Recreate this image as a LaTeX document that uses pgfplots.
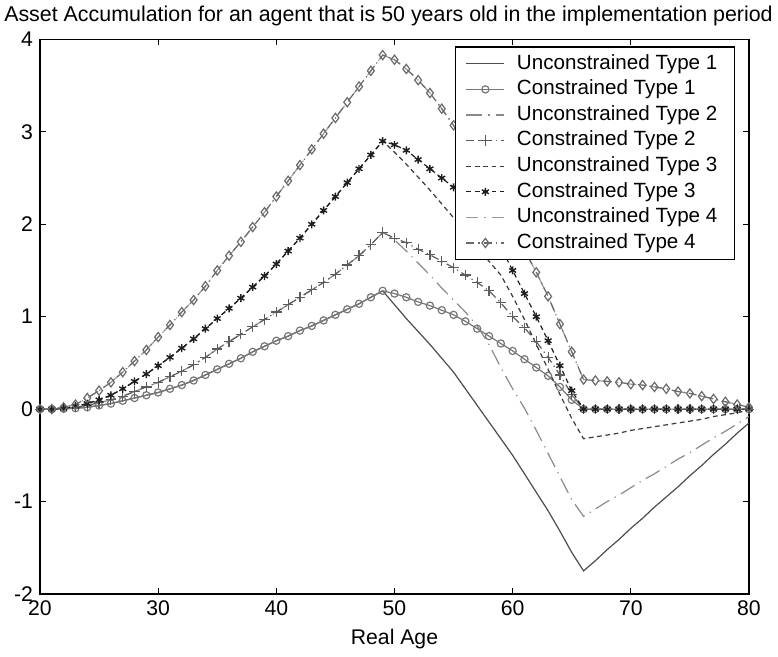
\documentclass[border=0pt]{standalone}
\usepackage{fontspec}
\setmainfont{Liberation Sans}
\usepackage{pgfplots}
\usepackage{pgfplotstable}
\pgfplotsset{compat=1.18}

% Asset holdings by age: unconstrained (u) and constrained (c) paths for four types.
% Type 4 never hits the borrowing constraint, so its two paths coincide.
\pgfplotstableread{
age  u1     c1    u2     c2    u3     c3    u4    c4
20   0      0     0      0     0      0     0     0
21   0      0     0      0     0      0     0     0
22   0.005  0.005 0.01   0.01  0.01   0.01  0.02  0.02
23   0.01   0.01  0.02   0.02  0.03   0.03  0.05  0.05
24   0.02   0.02  0.04   0.04  0.06   0.06  0.12  0.12
25   0.04   0.04  0.07   0.07  0.10   0.10  0.20  0.20
26   0.06   0.06  0.10   0.10  0.15   0.15  0.29  0.29
27   0.09   0.09  0.14   0.14  0.22   0.22  0.40  0.40
28   0.12   0.12  0.19   0.19  0.30   0.30  0.52  0.52
29   0.15   0.15  0.24   0.24  0.38   0.38  0.64  0.64
30   0.18   0.18  0.29   0.29  0.47   0.47  0.78  0.78
31   0.22   0.22  0.35   0.35  0.56   0.56  0.91  0.91
32   0.26   0.26  0.41   0.41  0.66   0.66  1.05  1.05
33   0.31   0.31  0.48   0.48  0.76   0.76  1.18  1.18
34   0.37   0.37  0.56   0.56  0.87   0.87  1.33  1.33
35   0.43   0.43  0.65   0.65  0.98   0.98  1.50  1.50
36   0.49   0.49  0.73   0.73  1.09   1.09  1.66  1.66
37   0.55   0.55  0.81   0.81  1.20   1.20  1.81  1.81
38   0.62   0.62  0.89   0.89  1.32   1.32  1.97  1.97
39   0.68   0.68  0.97   0.97  1.44   1.44  2.13  2.13
40   0.74   0.74  1.05   1.05  1.57   1.57  2.30  2.30
41   0.79   0.79  1.13   1.13  1.71   1.71  2.47  2.47
42   0.85   0.85  1.21   1.21  1.85   1.85  2.64  2.64
43   0.90   0.90  1.29   1.29  2.00   2.00  2.81  2.81
44   0.96   0.96  1.37   1.37  2.15   2.15  2.98  2.98
45   1.02   1.02  1.46   1.46  2.30   2.30  3.15  3.15
46   1.08   1.08  1.56   1.56  2.45   2.45  3.32  3.32
47   1.14   1.14  1.66   1.66  2.60   2.60  3.49  3.49
48   1.21   1.21  1.78   1.78  2.75   2.75  3.66  3.66
49   1.28   1.28  1.91   1.91  2.90   2.90  3.83  3.83
50   1.13   1.25  1.83   1.85  2.78   2.86  3.78  3.78
51   0.98   1.21  1.71   1.80  2.65   2.80  3.68  3.68
52   0.84   1.16  1.58   1.73  2.51   2.70  3.56  3.56
53   0.70   1.12  1.45   1.67  2.37   2.60  3.42  3.42
54   0.55   1.07  1.31   1.60  2.22   2.50  3.25  3.25
55   0.40   1.02  1.18   1.53  2.07   2.40  3.07  3.07
56   0.22   0.95  1.05   1.45  1.91   2.28  2.87  2.87
57   0.04   0.87  0.90   1.37  1.75   2.12  2.66  2.66
58  -0.14   0.79  0.70   1.28  1.60   1.95  2.44  2.44
59  -0.32   0.71  0.45   1.15  1.45   1.75  2.20  2.20
60  -0.50   0.63  0.22   1.00  1.22   1.50  1.96  1.96
61  -0.70   0.54  0.01   0.88  0.97   1.25  1.72  1.72
62  -0.90   0.45 -0.23   0.73  0.70   1.00  1.48  1.48
63  -1.10   0.36 -0.48   0.56  0.43   0.74  1.22  1.22
64  -1.32   0.24 -0.73   0.37  0.16   0.47  0.92  0.92
65  -1.55   0.10 -0.98   0.16 -0.10   0.20  0.62  0.62
66  -1.75   0    -1.16   0    -0.32   0     0.32  0.32
67  -1.64   0    -1.08   0    -0.30   0     0.31  0.31
68  -1.52   0    -1.00   0    -0.28   0     0.30  0.30
69  -1.41   0    -0.93   0    -0.26   0     0.29  0.29
70  -1.29   0    -0.85   0    -0.23   0     0.27  0.27
71  -1.18   0    -0.77   0    -0.21   0     0.26  0.26
72  -1.06   0    -0.70   0    -0.19   0     0.24  0.24
73  -0.95   0    -0.62   0    -0.17   0     0.22  0.22
74  -0.84   0    -0.54   0    -0.15   0     0.19  0.19
75  -0.72   0    -0.47   0    -0.13   0     0.17  0.17
76  -0.61   0    -0.39   0    -0.11   0     0.14  0.14
77  -0.49   0    -0.31   0    -0.08   0     0.11  0.11
78  -0.38   0    -0.24   0    -0.06   0     0.08  0.08
79  -0.26   0    -0.16   0    -0.04   0     0.05  0.05
80  -0.15   0    -0.08   0    -0.01   0     0.02  0.02
}\assets

\definecolor{uone}{HTML}{4D4D4D}
\definecolor{cone}{HTML}{777777}
\definecolor{utwo}{HTML}{8A8A8A}
\definecolor{ctwo}{HTML}{5C5C5C}
\definecolor{uthree}{HTML}{3A3A3A}
\definecolor{cthree}{HTML}{1E1E1E}
\definecolor{ufour}{HTML}{999999}
\definecolor{cfour}{HTML}{6A6A6A}

\newcommand{\figfont}{\fontsize{10.6}{12}\selectfont}
% trailing room after each legend text
\newcommand{\legtext}[1]{#1\hspace*{2pt}}

\begin{document}
\begin{tikzpicture}
\begin{axis}[
  name=ax,
  scale only axis,
  width=354.5pt, height=277.3pt,
  xmin=20, xmax=80, ymin=-2, ymax=4,
  xtick={20,30,...,80}, ytick={-2,-1,...,4},
  tick align=inside, xtick pos=both, ytick pos=both,
  major tick length=3pt,
  tick style={black, line width=0.5pt},
  axis line style={black, line width=0.8pt},
  ticklabel style={font=\figfont},
  /pgf/number format/assume math mode=true,
  title={Asset Accumulation for an agent that is 50 years old in the implementation period},
  title style={font=\fontsize{10.7}{12}\selectfont, at={(0.5,1)}, anchor=base, yshift=2.9pt, xshift=-3pt},
  xlabel={Real Age},
  xlabel style={font=\figfont, at={(0.5,0)}, anchor=base, yshift=-25.5pt},
  every axis plot/.append style={line width=0.6pt},
  legend image code/.code={%
    \draw[mark repeat=2, mark phase=2, #1] plot coordinates {(0pt,0pt) (9.5pt,0pt) (19pt,0pt)};},
  legend cell align=left,
  legend style={
    at={(1,1)}, anchor=north east, xshift=-7pt, yshift=-3.5pt,
    draw=black, line width=0.6pt, fill=white,
    font=\fontsize{10.3}{12}\selectfont,
    inner xsep=5pt, inner ysep=2pt,
    column sep=4.5pt,
    nodes={inner sep=1.5pt, text height=7.6pt, text depth=2.2pt},
  },
]
\addplot[uone, solid] table[x=age, y=u1] {\assets};
\addlegendentry{\legtext{Unconstrained Type 1}}
\addplot[cone, solid, mark=o, mark size=1.8pt, mark options={solid}] table[x=age, y=c1] {\assets};
\addlegendentry{\legtext{Constrained Type 1}}
\addplot[utwo, dash pattern=on 8pt off 3pt on 0.6pt off 3pt] table[x=age, y=u2] {\assets};
\addlegendentry{\legtext{Unconstrained Type 2}}
\addplot[ctwo, dash pattern=on 4pt off 2pt on 0.6pt off 2pt, mark=+, mark size=2.6pt, mark options={solid}] table[x=age, y=c2] {\assets};
\addlegendentry{\legtext{Constrained Type 2}}
\addplot[uthree, dash pattern=on 2.4pt off 1.8pt] table[x=age, y=u3] {\assets};
\addlegendentry{\legtext{Unconstrained Type 3}}
\addplot[cthree, dash pattern=on 2.4pt off 1.8pt, mark=asterisk, mark size=2pt, mark options={solid, line width=0.7pt}] table[x=age, y=c3] {\assets};
\addlegendentry{\legtext{Constrained Type 3}}
\addplot[ufour, dash pattern=on 6pt off 3pt on 0.6pt off 3pt] table[x=age, y=u4] {\assets};
\addlegendentry{\legtext{Unconstrained Type 4}}
\addplot[cfour, dash pattern=on 4pt off 2pt on 0.6pt off 2pt, mark=diamond, mark size=2.3pt, mark options={solid}] table[x=age, y=c4] {\assets};
\addlegendentry{\legtext{Constrained Type 4}}
\end{axis}
\pgfresetboundingbox
\path (ax.south west) ++(-20pt,-31.5pt) rectangle ++(389pt,328.5pt);
\end{tikzpicture}
\end{document}
